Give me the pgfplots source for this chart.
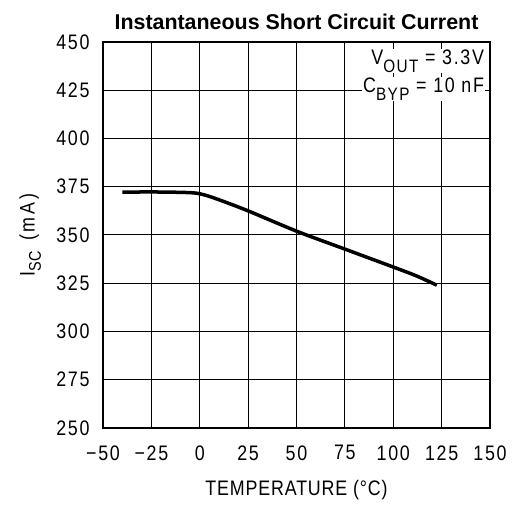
\documentclass[border=0pt]{standalone}
\usepackage{fontspec}
\setmainfont{Liberation Sans}
\newfontfamily\plotfont[FakeStretch=0.85,LetterSpace=8]{Liberation Sans}
\newfontfamily\labfont[FakeStretch=0.85,LetterSpace=4]{Liberation Sans}
\newfontfamily\wfont[FakeStretch=0.85,LetterSpace=14]{Liberation Sans}
\usepackage{pgfplots}
\pgfplotsset{compat=1.18}
\newcommand\pf{\plotfont\fontsize{21}{24}\selectfont}
\newcommand\lf{\labfont\fontsize{21}{24}\selectfont}
\begin{document}
\begin{tikzpicture}
\useasboundingbox (-103pt,-83pt) rectangle (412pt,428pt);
\begin{axis}[
  at={(0pt,0pt)}, anchor=south west,
  scale only axis, width=387pt, height=386pt,
  xmin=-50, xmax=150, ymin=250, ymax=450,
  xtick={-50,-25,0,25,50,75,100,125,150},
  xticklabels={−50,−25,0,25,50,75,100,125,150},
  ytick={250,275,300,325,350,375,400,425,450},
  grid=major,
  major grid style={black, line width=1pt},
  axis line style={black, line width=1.6pt},
  tick style={draw=none},
  /pgf/number format/assume math mode=true,
  tick label style={font=\pf},
  xticklabel style={yshift=-14pt},
  yticklabel style={xshift=-10pt},
  xlabel={TEMPERATURE (°C)},
  ylabel={I\raisebox{-0.3em}{\labfont\fontsize{17}{19}\selectfont SC}\hspace{10pt}{\wfont\fontsize{21}{24}\selectfont(mA)}},
  xlabel style={font=\lf, at={(axis description cs:0.5,-0.161)}, anchor=center},
  ylabel style={font=\lf, at={(axis description cs:-0.188,0.5)}, anchor=center},
  title={Instantaneous Short Circuit Current},
  title style={font=\bfseries\fontsize{21.4}{25}\selectfont, yshift=3pt},
]
\addplot[black, line width=3.5pt, smooth] coordinates {
(-40,372.2) (-25,372.3) (-10,372.1) (-2,371.7) (4,370.3) (12,367.5) (25,362.5)
(50,352) (75,342.7) (100,333.4) (112,328.8) (122.5,324)
};
\node[anchor=east, fill=white, inner sep=1pt, font=\pf] at (axis cs:147.5,440) {V\raisebox{-0.35em}{\plotfont\fontsize{18}{20}\selectfont OUT} = 3.3V};
\node[anchor=east, fill=white, inner sep=1pt, font=\pf] at (axis cs:147.5,425.5) {C\raisebox{-0.35em}{\plotfont\fontsize{18}{20}\selectfont BYP} = 10 nF};
\end{axis}
\end{tikzpicture}
\end{document}
